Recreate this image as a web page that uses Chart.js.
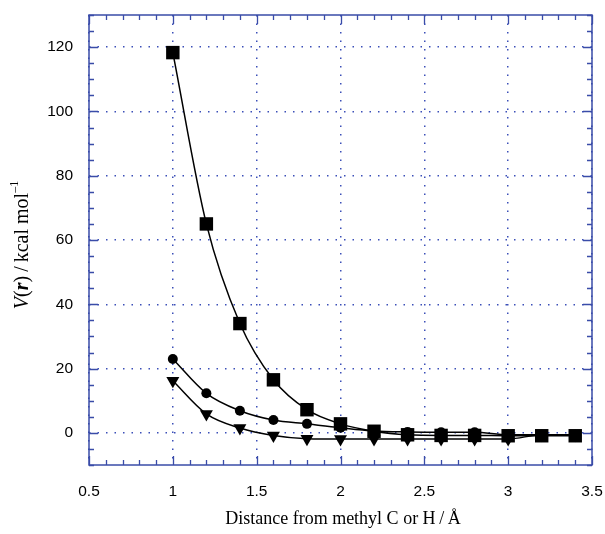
<!DOCTYPE html>
<html>
<head>
<meta charset="utf-8">
<script src="https://cdn.jsdelivr.net/npm/chart.js@4.4.1/dist/chart.umd.min.js"></script>
<style>
  html, body { margin: 0; padding: 0; background: #fff; }
</style>
</head>
<body>
<canvas id="chart" width="605" height="534"></canvas>
<script>
// distance from methyl C or H (Å)
const distances = [1.0, 1.2, 1.4, 1.6, 1.8, 2.0, 2.2, 2.4, 2.6, 2.8, 3.0, 3.2, 3.4];
// V(r) in kcal/mol for the three probes
const squareVals   = [118.3, 65.0, 34.0, 16.5, 7.2, 2.8, 0.5, -0.6, -0.8, -0.8, -0.9, -0.9, -0.9];
const circleVals   = [23.0, 12.3, 6.9, 4.0, 2.8, 1.6, 0.6, 0.3, 0.2, 0.2, -0.6, -0.6, -0.6];
const triangleVals = [16.2, 5.9, 1.5, -0.8, -1.8, -1.9, -1.9, -1.9, -1.9, -1.9, -1.9, -0.6, -0.6];

const xTicks = [0.5, 1, 1.5, 2, 2.5, 3, 3.5];
const yTicks = [0, 20, 40, 60, 80, 100, 120];

const axisBlue = "#3a4ca8";
const gridBlue = "#3b4fb8";

function toPoints(vals) {
    return distances.map((d, i) => ({ x: d, y: vals[i] }));
}

// frame on all four sides with inward major/minor ticks
const frameTicks = {
    id: "frameTicks",
    beforeDatasetsDraw(chart) {
        const { ctx, chartArea: a, scales } = chart;
        const xs = scales.x, ys = scales.y;
        ctx.save();
        ctx.strokeStyle = axisBlue;
        ctx.lineWidth = 1.5;
        ctx.strokeRect(a.left, a.top, a.right - a.left, a.bottom - a.top);
        ctx.lineWidth = 1.3;
        ctx.beginPath();
        for (let i = 0; i <= 30; i++) {
            let v = 0.5 + i * 0.1;
            let px = Math.round(xs.getPixelForValue(v)) + 0.5;
            let len = (i % 5 === 0) ? 9 : 5;
            ctx.moveTo(px, a.bottom); ctx.lineTo(px, a.bottom - len);
            ctx.moveTo(px, a.top); ctx.lineTo(px, a.top + len);
        }
        for (let v = -10; v <= 130; v += 5) {
            let py = Math.round(ys.getPixelForValue(v)) + 0.5;
            let len = (v % 20 === 0) ? 9 : 5;
            ctx.moveTo(a.left, py); ctx.lineTo(a.left + len, py);
            ctx.moveTo(a.right, py); ctx.lineTo(a.right - len, py);
        }
        ctx.stroke();
        ctx.restore();
    }
};

// axis titles (y title has italic / bold-italic parts)
const axisTitles = {
    id: "axisTitles",
    afterDraw(chart) {
        const { ctx, chartArea: a } = chart;
        ctx.save();
        ctx.fillStyle = "#000";
        ctx.font = '18px "Liberation Serif"';
        ctx.textAlign = "center";
        ctx.textBaseline = "middle";
        ctx.fillText("Distance from methyl C or H\u2009/\u2009Å", 343, 519);

        const parts = [
            { t: "V", f: 'italic 20px "Liberation Serif"', dy: 0 },
            { t: "(", f: '20px "Liberation Serif"', dy: 0 },
            { t: "r", f: 'italic bold 20px "Liberation Serif"', dy: 0 },
            { t: ")", f: '20px "Liberation Serif"', dy: 0 },
            { t: "\u2009/\u2009kcal mol", f: '20px "Liberation Serif"', dy: 0 },
            { t: "\u20131", f: '12px "Liberation Serif"', dy: -8 }
        ];
        let total = 0;
        parts.forEach(p => { ctx.font = p.f; p.w = ctx.measureText(p.t).width; total += p.w; });
        ctx.translate(23, 245);
        ctx.rotate(-Math.PI / 2);
        ctx.textAlign = "left";
        ctx.textBaseline = "middle";
        let x = -total / 2;
        parts.forEach(p => {
            ctx.font = p.f;
            ctx.fillText(p.t, x, p.dy);
            x += p.w;
        });
        ctx.restore();
    }
};

const lineStyle = {
    showLine: true,
    borderColor: "#000",
    backgroundColor: "#000",
    borderWidth: 1.5,
    cubicInterpolationMode: "monotone",
    pointBorderWidth: 0
};

new Chart(document.getElementById("chart"), {
    type: "scatter",
    data: {
        datasets: [
            Object.assign({ label: "triangle", data: toPoints(triangleVals), pointStyle: "triangle", pointRotation: 180, pointRadius: 7.5, order: 3 }, lineStyle),
            Object.assign({ label: "circle", data: toPoints(circleVals), pointStyle: "circle", pointRadius: 5, order: 2 }, lineStyle),
            Object.assign({ label: "square", data: toPoints(squareVals), pointStyle: "rect", pointRadius: 9.5, order: 1 }, lineStyle)
        ]
    },
    options: {
        responsive: false,
        devicePixelRatio: 1,
        animation: false,
        layout: { padding: { left: 0, top: 15, right: 13, bottom: 0 } },
        plugins: { legend: { display: false }, tooltip: { enabled: false } },
        scales: {
            x: {
                type: "linear",
                min: 0.5, max: 3.5,
                afterBuildTicks: s => { s.ticks = xTicks.map(v => ({ value: v })); },
                afterFit: s => { s.height = 69; s.paddingLeft = 0; s.paddingRight = 0; },
                ticks: {
                    padding: 17,
                    color: "#000",
                    font: { family: "Liberation Sans", size: 15.5 },
                    callback: v => String(v)
                },
                grid: { color: gridBlue, lineWidth: 1.5, drawTicks: false },
                border: { display: false, dash: [1.5, 7] }
            },
            y: {
                type: "linear",
                min: -10, max: 130,
                afterBuildTicks: s => { s.ticks = yTicks.map(v => ({ value: v })); },
                afterFit: s => { s.width = 89; s.paddingTop = 0; s.paddingBottom = 0; },
                ticks: {
                    padding: 16,
                    color: "#000",
                    font: { family: "Liberation Sans", size: 15.5 }
                },
                grid: { color: gridBlue, lineWidth: 1.5, drawTicks: false },
                border: { display: false, dash: [1.5, 7] }
            }
        }
    },
    plugins: [frameTicks, axisTitles]
});
</script>
</body>
</html>
